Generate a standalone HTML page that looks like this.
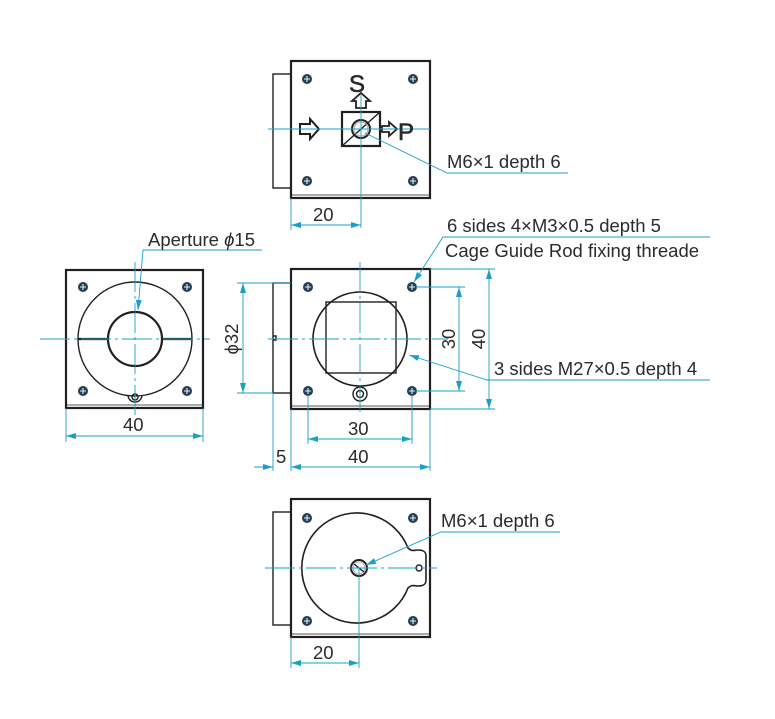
<!DOCTYPE html>
<html><head><style>html,body{margin:0;padding:0;background:#fff}svg{display:block}text{font-family:"Liberation Sans",sans-serif;fill:#2b2b2b}</style></head>
<body>
<svg width="775" height="719" viewBox="0 0 775 719" xmlns="http://www.w3.org/2000/svg">
<defs>
<marker id="a" viewBox="0 0 10 6" refX="10" refY="3" markerWidth="11" markerHeight="6" orient="auto-start-reverse" markerUnits="userSpaceOnUse"><path d="M0,0L10,3L0,6z" fill="#1aa0c8"/></marker>
<g id="sc"><circle r="5" fill="#2a3b55"/><path d="M-3,0H3M0,-3V3" stroke="#cfe" stroke-width="1.1"/></g>
</defs>
<g fill="none" stroke="#231f20" stroke-width="1.4">
<!-- TOP VIEW -->
<rect x="273" y="74" width="18" height="114"/>
<rect x="291" y="61" width="139" height="137" stroke-width="2.2"/>
<line x1="292" y1="195" x2="429" y2="195" stroke-width="0.8"/>
<rect x="342" y="112" width="38" height="34" stroke-width="2.2"/>
<line x1="342" y1="146" x2="380" y2="112"/>
<circle cx="361" cy="129" r="9" stroke-width="2"/>
<circle cx="361" cy="129" r="7" stroke="#999" stroke-width="0.8"/>
<path d="M300,124h10v-5l9,10l-9,10v-5h-10z" stroke-width="2"/>
<path d="M356,108v-7h-4l9,-8l9,8h-4v7z" stroke-width="1.8"/>
<path d="M382,126h7v-4l8,7l-8,7v-4h-7z" stroke-width="1.8"/>
<!-- MIDDLE VIEW -->
<rect x="273" y="283" width="18" height="110"/>
<rect x="291" y="269" width="139" height="140" stroke-width="2.2"/>
<line x1="292" y1="406" x2="429" y2="406" stroke-width="0.8"/>
<circle cx="360" cy="339" r="47" stroke-width="1.6"/>
<rect x="326" y="302" width="70" height="71"/>
<circle cx="360" cy="394" r="7"/><circle cx="360" cy="394" r="3.5"/>
<path d="M273,336h3v4h-3"/>
<!-- LEFT VIEW -->
<rect x="66" y="270" width="137" height="138" stroke-width="2.2"/>
<line x1="67" y1="405" x2="202" y2="405" stroke-width="0.8"/>
<circle cx="135" cy="339" r="57"/>
<circle cx="135" cy="339" r="27" stroke-width="2.2"/>
<line x1="78" y1="339" x2="108" y2="339" stroke-width="2.2"/>
<line x1="162" y1="339" x2="192" y2="339" stroke-width="2.2"/>
<path d="M128,395a7,7 0 0 0 14,0"/><circle cx="135" cy="397" r="3"/>
<!-- BOTTOM VIEW -->
<rect x="273" y="512" width="18" height="113"/>
<rect x="291" y="499" width="139" height="138" stroke-width="2.2"/>
<line x1="292" y1="634" x2="429" y2="634" stroke-width="0.8"/>
<path d="M408,548A55,55 0 1 0 408,588C412,584 414,586 418,586C424,586 426,584 426,580V556C426,552 424,550 418,550C414,550 412,552 408,548Z" stroke-width="1.6"/>
<circle cx="419" cy="568" r="3"/>
<circle cx="359" cy="568" r="8" stroke-width="2"/>
<circle cx="359" cy="568" r="6" stroke="#999" stroke-width="0.8"/>
<line x1="354" y1="564" x2="364" y2="572"/>
</g>
<g>
<use href="#sc" x="307" y="79"/><use href="#sc" x="413" y="79"/><use href="#sc" x="307" y="181"/><use href="#sc" x="413" y="181"/>
<use href="#sc" x="308" y="287"/><use href="#sc" x="412" y="287"/><use href="#sc" x="308" y="391"/><use href="#sc" x="412" y="391"/>
<use href="#sc" x="83" y="287"/><use href="#sc" x="187" y="287"/><use href="#sc" x="83" y="391"/><use href="#sc" x="187" y="391"/>
<use href="#sc" x="307" y="518"/><use href="#sc" x="413" y="518"/><use href="#sc" x="307" y="621"/><use href="#sc" x="413" y="621"/>
</g>
<g fill="none" stroke="#1aa0c8" stroke-width="0.9">
<line x1="268" y1="129" x2="430" y2="129"/><line x1="361" y1="95" x2="361" y2="228"/>
<line x1="268" y1="339" x2="448" y2="339" stroke-dasharray="30,4,3,4"/><line x1="360" y1="262" x2="360" y2="412" stroke-dasharray="30,4,3,4"/>
<line x1="40" y1="339" x2="210" y2="339" stroke-dasharray="30,4,3,4"/><line x1="135" y1="262" x2="135" y2="418" stroke-dasharray="30,4,3,4"/>
<line x1="265" y1="568" x2="437" y2="568" stroke-dasharray="30,4,3,4"/><line x1="359" y1="568" x2="359" y2="668"/>
<line x1="291" y1="198" x2="291" y2="230"/>
<line x1="291" y1="225" x2="361" y2="225" marker-start="url(#a)" marker-end="url(#a)"/>
<polyline points="365,133 447,173 568,173"/>
<line x1="291" y1="283" x2="237" y2="283"/><line x1="273" y1="393" x2="237" y2="393"/>
<line x1="243" y1="283" x2="243" y2="393" marker-start="url(#a)" marker-end="url(#a)"/>
<line x1="430" y1="269" x2="495" y2="269"/><line x1="430" y1="409" x2="495" y2="409"/>
<line x1="489" y1="269" x2="489" y2="409" marker-start="url(#a)" marker-end="url(#a)"/>
<line x1="416" y1="287" x2="465" y2="287"/><line x1="416" y1="391" x2="465" y2="391"/>
<line x1="459" y1="287" x2="459" y2="391" marker-start="url(#a)" marker-end="url(#a)"/>
<line x1="308" y1="395" x2="308" y2="444"/><line x1="412" y1="395" x2="412" y2="444"/>
<line x1="308" y1="439" x2="412" y2="439" marker-start="url(#a)" marker-end="url(#a)"/>
<line x1="273" y1="393" x2="273" y2="471"/><line x1="291" y1="409" x2="291" y2="471"/><line x1="430" y1="409" x2="430" y2="471"/>
<line x1="291" y1="467" x2="430" y2="467" marker-start="url(#a)" marker-end="url(#a)"/>
<line x1="254" y1="467" x2="273" y2="467" marker-end="url(#a)"/>
<polyline points="710,237 443,237 414,282" marker-end="url(#a)"/>
<polyline points="710,380 487,380 409,355" marker-end="url(#a)"/>
<line x1="66" y1="408" x2="66" y2="442"/><line x1="203" y1="408" x2="203" y2="442"/>
<line x1="66" y1="436" x2="203" y2="436" marker-start="url(#a)" marker-end="url(#a)"/>
<polyline points="262,250 143,250 138,310" marker-end="url(#a)"/>
<line x1="291" y1="637" x2="291" y2="668"/>
<line x1="291" y1="663" x2="359" y2="663" marker-start="url(#a)" marker-end="url(#a)"/>
<polyline points="560,532 441,532 366,565" marker-end="url(#a)"/>
</g>
<g font-size="18.5">
<text x="349" y="92" font-size="24" stroke="#2b2b2b" stroke-width="0.6">S</text>
<text x="398" y="140" font-size="24" stroke="#2b2b2b" stroke-width="0.6">P</text>
<text x="447" y="168">M6×1 depth 6</text>
<text x="313" y="221">20</text>
<text x="447" y="232">6 sides 4×M3×0.5 depth 5</text>
<text x="445" y="257">Cage Guide Rod fixing threade</text>
<text x="148" y="246">Aperture <tspan font-style="italic">ϕ</tspan>15</text>
<text x="494" y="375">3 sides M27×0.5 depth 4</text>
<text transform="translate(238,339) rotate(-90)" text-anchor="middle">ϕ32</text>
<text transform="translate(455,339) rotate(-90)" text-anchor="middle">30</text>
<text transform="translate(485,339) rotate(-90)" text-anchor="middle">40</text>
<text x="123" y="431">40</text>
<text x="348" y="435">30</text>
<text x="276" y="463">5</text>
<text x="348" y="463">40</text>
<text x="441" y="527">M6×1 depth 6</text>
<text x="313" y="659">20</text>
</g>
</svg>
</body></html>
